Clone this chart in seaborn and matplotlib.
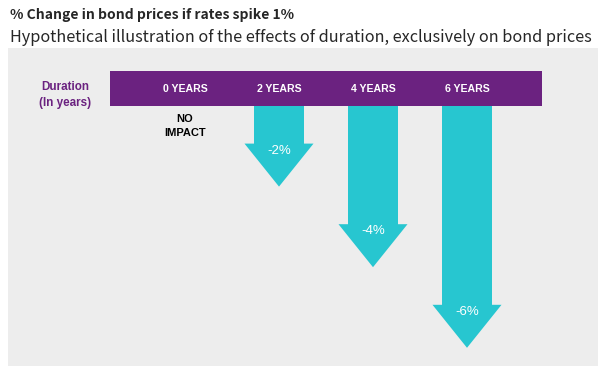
import matplotlib
matplotlib.use("Agg")
import matplotlib.pyplot as plt
import seaborn as sns

# ---- data ----
durations = [0, 2, 4, 6]
duration_labels = ["0 YEARS", "2 YEARS", "4 YEARS", "6 YEARS"]
price_change = [0, -2, -4, -6]
change_labels = ["NO\nIMPACT", "-2%", "-4%", "-6%"]
title = "% Change in bond prices if rates spike 1%"
subtitle = "Hypothetical illustration of the effects of duration, exclusively on bond prices"

PURPLE = "#6B2280"
CYAN = "#27C6D0"
PANEL = "#EDEDED"

sns.set_theme(style="white")
plt.rcParams["font.family"] = ["Liberation Sans", "DejaVu Sans"]

W, H = 600, 369
fig = plt.figure(figsize=(W / 100, H / 100), dpi=100)
fig.patch.set_facecolor("white")

# panel axes in pixel geometry
px0, px1, py0, py1 = 8, 598, 48, 366
ax = fig.add_axes([px0 / W, 1 - py1 / H, (px1 - px0) / W, (py1 - py0) / H])
ax.set_facecolor(PANEL)
for s in ax.spines.values():
    s.set_visible(False)
ax.set_xticks([])
ax.set_yticks([])

# x in years: 47 px per year, 0 years centred at px 185
xpx_per = 47.0
x0px = 185.0
ax.set_xlim((px0 - x0px) / xpx_per, (px1 - x0px) / xpx_per)
# y in %: 0 at px 106, 40.3 px per %
ypx_per = 40.3
y0px = 106.0
ax.set_ylim((y0px - py1) / ypx_per, (y0px - py0) / ypx_per)

def ypix(p):
    return (y0px - p) / ypx_per

# header bar
bar_left = (110 - x0px) / xpx_per
bar_right = (542 - x0px) / xpx_per
bar_top = ypix(71)
ax.fill_between([bar_left, bar_right], 0, bar_top, color=PURPLE, linewidth=0, zorder=2)
ax.text((65 - x0px) / xpx_per, ypix(95), "Duration\n(In years)", color=PURPLE,
        fontsize=8.4, fontweight="bold", ha="center", va="center", linespacing=1.45)
for d, lab in zip(durations, duration_labels):
    ax.text(d, ypix(89), lab, color="white", fontsize=7.6, fontweight="bold",
            ha="center", va="center", zorder=3)

shaft_w = 50 / xpx_per
head_w = 69 / xpx_per
head_l = 43 / ypx_per
for d, v, lab in zip(durations, price_change, change_labels):
    if v == 0:
        ax.text(d, ypix(126.5), lab, color="black", fontsize=8,
                fontweight="bold", ha="center", va="center", linespacing=1.5)
        continue
    ax.arrow(d, 0, 0, v, width=shaft_w, head_width=head_w, head_length=head_l,
             length_includes_head=True, color=CYAN, linewidth=0, zorder=2)
    ax.text(d, v + 36 / ypx_per, lab, color="white", fontsize=9.5, ha="center",
            va="center", zorder=3)

fig.text(10 / W, 1 - 15 / H, title, fontsize=10, fontweight="bold",
         family=["Noto Sans CJK KR", "DejaVu Sans"], ha="left", va="center")
fig.text(10 / W, 1 - 37 / H, subtitle, fontsize=11.7,
         family=["Noto Sans CJK KR", "DejaVu Sans"], ha="left", va="center")

fig.savefig("out.png", dpi=100)
